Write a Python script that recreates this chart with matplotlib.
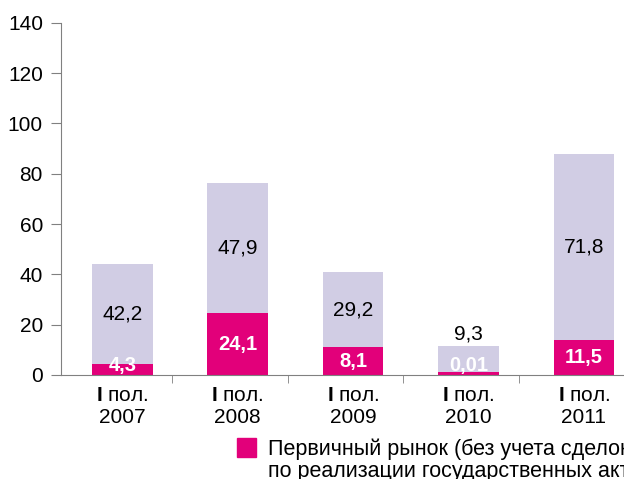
import matplotlib
matplotlib.use('Agg')
import matplotlib.pyplot as plt
from matplotlib.patches import Rectangle
import numpy as np

plt.rcParams['font.family'] = ['Liberation Sans', 'DejaVu Sans']
plt.rcParams['mathtext.fontset'] = 'custom'
plt.rcParams['mathtext.bf'] = 'Liberation Sans:bold'
plt.rcParams['mathtext.rm'] = 'Liberation Sans'

years = ['2007', '2008', '2009', '2010', '2011']
# bar heights as drawn in the picture
primary = [4.5, 24.6, 11.1, 1.3, 13.9]
other = [39.6, 51.7, 29.8, 10.2, 73.9]
# printed labels
primary_labels = ['4,3', '24,1', '8,1', '0,01', '11,5']
other_labels = ['42,2', '47,9', '29,2', '9,3', '71,8']
legend_text = 'Первичный рынок (без учета сделок\nпо реализации государственных активов)'

magenta = '#E2007A'
lavender = '#D1CDE4'

fig = plt.figure(figsize=(6.24, 4.79), dpi=100)
ax = fig.add_axes([61 / 624, 104 / 479, 1 - 61 / 624, 352.3 / 479])

x = np.arange(len(years))
w = 0.526
b1 = ax.bar(x, primary, w, color=magenta, zorder=2)
b2 = ax.bar(x, other, w, bottom=primary, color=lavender, zorder=2)

for i in range(len(years)):
    top = primary[i] + other[i]
    if other[i] > 15:
        ax.text(x[i], primary[i] + other[i] / 2, other_labels[i], ha='center', va='center',
                fontsize=15, color='black')
    else:
        ax.text(x[i], top + 1.0, other_labels[i], ha='center', va='bottom',
                fontsize=15, color='black')
    ax.text(x[i], max(primary[i] / 2, 3.9), primary_labels[i], ha='center', va='center',
            fontsize=14.5, color='white', fontweight='bold')

ax.set_xlim(-0.531, 4.347)
ax.set_ylim(0, 140)
ax.set_yticks(np.arange(0, 141, 20))
ax.tick_params(axis='y', labelsize=15, length=7, pad=6, color='#808080')

ax.set_xticks(x)
ax.set_xticklabels([r'$\mathbf{I}$ пол.' + '\n' + y for y in years], fontsize=15,
                   linespacing=1.2)
ax.tick_params(axis='x', length=0, pad=8)
ax.set_xticks(x[:-1] + 0.435, minor=True)
ax.tick_params(axis='x', which='minor', length=6, color='#808080', direction='out')

for s in ['top', 'right']:
    ax.spines[s].set_visible(False)
ax.spines['left'].set_color('#808080')
ax.spines['bottom'].set_color('#808080')

# legend: swatch + text (text runs off the right edge as in the original)
fig.patches.append(Rectangle((237.3 / 624, 22.3 / 479), 18.4 / 624, 18.4 / 479,
                             transform=fig.transFigure, color=magenta))
fig.text(268 / 624, 1.5 / 479, legend_text, ha='left', va='baseline', fontsize=15.5,
         linespacing=1.1, color='black')

fig.savefig('out.png', dpi=100)
